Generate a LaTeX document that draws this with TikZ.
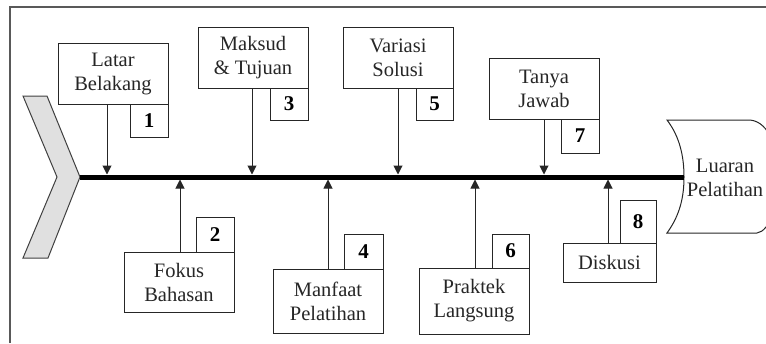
\documentclass[tikz,border=0pt]{standalone}
\usepackage{fontspec}
\setmainfont{Liberation Serif}
\usetikzlibrary{arrows.meta}
\begin{document}
\begin{tikzpicture}[x=1pt,y=-1pt,
  box/.style={draw=black!85,line width=1pt,inner sep=0pt,align=center,
    font=\fontsize{20.5}{24}\selectfont,text=black!85},
  numbox/.style={draw=black!85,line width=1pt,inner sep=0pt,
    font=\fontsize{21}{22}\selectfont\bfseries,text=black},
  arr/.style={draw=black!85,line width=1pt,-{Triangle[width=9pt,length=9pt]}},
  frame/.style={draw=black!65,line width=1.5pt}]
\useasboundingbox (0,0) rectangle (766,343);
% frame
\draw[frame] (10,343) -- (10,7) -- (766,7);
% chevron head
\draw[fill=black!12,draw=black!75,line width=1pt]
  (23,96) -- (47,96) -- (80,177) -- (48,258) -- (23,258) -- (57,177) -- cycle;
% tail shape
\draw[draw=black!85,line width=1pt]
  (667,120) -- (750,120) .. controls (770,122) and (778,150) .. (778,177)
  .. controls (778,205) and (770,231) .. (757,233) -- (667,233)
  .. controls (680,215) and (684,197) .. (684,177)
  .. controls (684,157) and (680,137) .. (667,120) -- cycle;
\node[font=\fontsize{20.5}{24}\selectfont,text=black!85,align=center] (out) at (725,178) {Luaran\\Pelatihan};
% spine
\coordinate (head) at (80,177);
\coordinate (tail) at (684,177);
\draw[line width=5pt] (head) -- (tail);
% top boxes
\node[box,minimum width=110pt,minimum height=61pt] (b1) at (113,73.5) {Latar\\Belakang};
\node[numbox,minimum width=38pt,minimum height=33pt] (n1) at (149,120.5) {1};
\node[box,minimum width=110pt,minimum height=61pt] (b3) at (253,57.5) {Maksud\\\&~Tujuan};
\node[numbox,minimum width=38pt,minimum height=32pt] (n3) at (289,104) {3};
\node[box,minimum width=110pt,minimum height=61pt] (b5) at (398,57.5) {Variasi\\Solusi};
\node[numbox,minimum width=37pt,minimum height=32pt] (n5) at (434.5,104) {5};
\node[box,minimum width=110pt,minimum height=61pt] (b7) at (544,88.5) {Tanya\\Jawab};
\node[numbox,minimum width=38pt,minimum height=34pt] (n7) at (580,136) {7};
% bottom boxes
\node[box,minimum width=110pt,minimum height=60pt] (b2) at (179,282) {Fokus\\Bahasan};
\node[numbox,minimum width=38pt,minimum height=35pt] (n2) at (215,234.5) {2};
\node[box,minimum width=110pt,minimum height=64pt] (b4) at (328,301) {Manfaat\\Pelatihan};
\node[numbox,minimum width=39pt,minimum height=35pt] (n4) at (363.5,251.5) {4};
\node[box,minimum width=110pt,minimum height=66pt] (b6) at (474,301) {Praktek\\Langsung};
\node[numbox,minimum width=37pt,minimum height=34pt] (n6) at (510.5,251) {6};
\node[box,minimum width=93pt,minimum height=39pt] (b8) at (609.5,262.5) {Diskusi};
\node[numbox,minimum width=36pt,minimum height=43pt] (n8) at (638,221.5) {8};
% spine points
\coordinate (s1) at (107,174.5);
\coordinate (s3) at (252,174.5);
\coordinate (s5) at (398,174.5);
\coordinate (s7) at (544,174.5);
\coordinate (s2) at (180,179.5);
\coordinate (s4) at (328,179.5);
\coordinate (s6) at (475,179.5);
\coordinate (s8) at (608,179.5);
% arrows
\draw[arr] (b1.south -| s1) -- (s1);
\draw[arr] (b3.south -| s3) -- (s3);
\draw[arr] (b5.south -| s5) -- (s5);
\draw[arr] (b7.south -| s7) -- (s7);
\draw[arr] (b2.north -| s2) -- (s2);
\draw[arr] (b4.north -| s4) -- (s4);
\draw[arr] (b6.north -| s6) -- (s6);
\draw[arr] (b8.north -| s8) -- (s8);
\end{tikzpicture}
\end{document}
